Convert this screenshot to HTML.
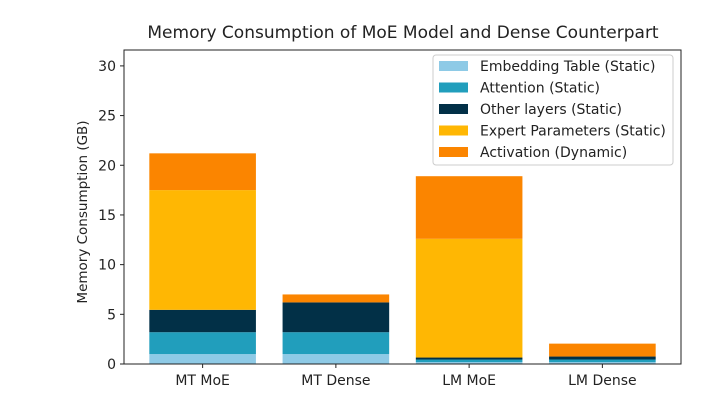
<!DOCTYPE html>
<html><head><meta charset="utf-8"><style>
body{margin:0;background:#fff;}
svg text{font-family:"DejaVu Sans","Liberation Sans",sans-serif;fill:#222;}
</style></head><body>
<svg id="chart" width="720" height="407">
<text x="403" y="38" font-size="17" text-anchor="middle">Memory Consumption of MoE Model and Dense Counterpart</text>
<text transform="translate(87,212) rotate(-90)" font-size="13.5" text-anchor="middle">Memory Consumption (GB)</text>
<g id="bars"></g>
<g id="axes"></g>
<g id="legend"></g>
</svg>
<script>
const categories=["MT MoE","MT Dense","LM MoE","LM Dense"];
const seriesNames=["Embedding Table (Static)","Attention (Static)","Other layers (Static)","Expert Parameters (Static)","Activation (Dynamic)"];
const embedding=[1.0,1.0,0.2,0.2];
const attention=[2.2,2.2,0.25,0.25];
const otherLayers=[2.25,3.0,0.2,0.3];
const expertParams=[12.05,0,11.95,0];
const activation=[3.7,0.8,6.3,1.3];
const yTicks=[0,5,10,15,20,25,30];
const colors=["#8ecae6","#219ebc","#023047","#ffb703","#fb8500"];
const series=[embedding,attention,otherLayers,expertParams,activation];
const NS="http://www.w3.org/2000/svg";
const L=124,R=681,T=50,B=364,ymax=31.6,xmin=-0.59,xmax=3.59;
const ys=v=>B-v/ymax*(B-T);
const xs=v=>L+(v-xmin)/(xmax-xmin)*(R-L);
function mk(tag,attrs,parent){const e=document.createElementNS(NS,tag);for(const k in attrs)e.setAttribute(k,attrs[k]);parent.appendChild(e);return e;}
const bars=document.getElementById('bars'),axes=document.getElementById('axes'),leg=document.getElementById('legend');
categories.forEach((c,i)=>{let base=0;
 series.forEach((s,j)=>{const v=s[i];if(v>0){
  const r=mk('rect',{x:xs(i-0.4),y:ys(base+v),width:xs(i+0.4)-xs(i-0.4),height:ys(base)-ys(base+v),fill:colors[j]},bars);
  
  }
  base+=v;});
 const t=mk('line',{x1:xs(i),x2:xs(i),y1:B,y2:B+4,stroke:'#222'},axes);
 const lb=mk('text',{x:xs(i),y:B+21,'font-size':14,'text-anchor':'middle'},axes);lb.textContent=c;
 
 
});
yTicks.forEach(v=>{mk('line',{x1:L-4,x2:L,y1:ys(v),y2:ys(v),stroke:'#222'},axes);
 const t=mk('text',{x:L-8,y:ys(v)+5,'font-size':14,'text-anchor':'end'},axes);t.textContent=v;
 
 });
const fr=mk('rect',{x:L,y:T,width:R-L,height:B-T,fill:'none',stroke:'#222','stroke-width':1},axes);


const lb=mk('rect',{x:433,y:55,width:240,height:110,rx:3,fill:'#fff','fill-opacity':0.85,stroke:'#ccc'},leg);


seriesNames.forEach((n,j)=>{const y=66+j*21.5;
 mk('rect',{x:439,y:y-5,width:29,height:10,fill:colors[j]},leg);
 const t=mk('text',{x:480,y:y+5,'font-size':14},leg);t.textContent=n;
 
 });
</script>
</body></html>
